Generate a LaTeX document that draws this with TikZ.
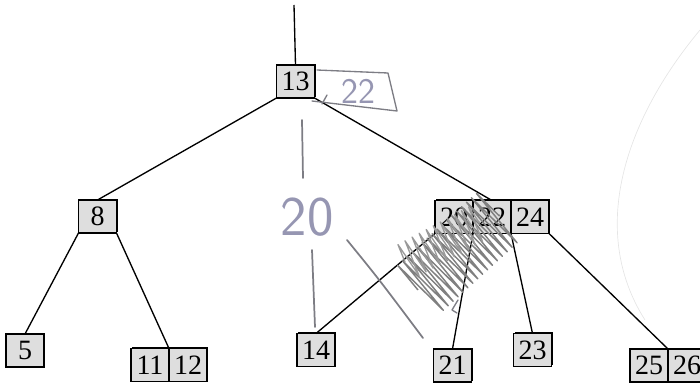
\documentclass[tikz,border=0pt]{standalone}
\usepackage{fontspec}
\setmainfont{Liberation Serif}
\usetikzlibrary{positioning,shadows,decorations.pathmorphing}

\definecolor{keyfill}{RGB}{222,222,222}
\definecolor{pencil}{RGB}{125,125,132}
\definecolor{inkblue}{RGB}{150,150,178}

\tikzset{every picture/.style={line width=0.75pt}}
\tikzset{
  key/.style={draw, fill=keyfill, minimum width=28.5pt, minimum height=24.75pt,
    inner sep=0pt, outer sep=0pt, line width=1.1pt,
    drop shadow={shadow xshift=0.9pt, shadow yshift=0.9pt, opacity=1, fill=black},
    font=\fontsize{21}{22}\selectfont},
  link/.style={draw, line width=1pt},
  pencilline/.style={draw=pencil, line width=1.3pt, line cap=round, line join=round},
  hand/.style={text=inkblue, font=\sffamily}
}

\begin{document}
\begin{tikzpicture}[x=0.75pt,y=0.75pt,yscale=-1,xscale=1]
\useasboundingbox (0,0) rectangle (700,385);

% faint scan mark on the right
\draw [black!10, line width=0.5pt] (700,30) .. controls (625,120) and (588,230) .. (645,320);

% Text Node
\draw (295.5,81.5) node [key] (n13) {13};
% Text Node
\draw (97.5,216.5) node [key] (n8) {8};
% Text Node
\draw (454,217) node [key] (n20) {20};
\node [key, right=0pt of n20] (n22) {22};
\node [key, right=0pt of n22] (n24) {24};
% Text Node
\draw (25,350.5) node [key] (n5) {5};
% Text Node
\draw (150,365) node [key] (n11) {11};
\node [key, right=0pt of n11] (n12) {12};
% Text Node
\draw (316,350) node [key] (n14) {14};
% Text Node
\draw (452.5,365.5) node [key] (n21) {21};
% Text Node
\draw (532.5,350) node [key] (n23) {23};
% Text Node
\draw (649,365.5) node [key] (n25) {25};
\node [key, right=0pt of n25] (n26) {26};

\coordinate (root) at (294,5);

%Straight Lines
\draw [link] (root) -- (n13.north) ;
\draw [link] (n13.south west) -- (n8.north) ;
\draw [link] (n13.south east) -- (n22.north) ;
\draw [link] (n8.south west) -- (n5.north) ;
\draw [link] (n8.south east) -- (n11.north east) ;
\draw [link] (n20.south west) -- (n14.north) ;
\draw [link] (n20.south east) -- (n21.north) ;
\draw [link] (n22.south east) -- (n23.north) ;
\draw [link] (n24.south east) -- (n25.north east) ;

% pencil notes
\draw [pencilline, line width=1pt] (317,70) -- (388,73) -- (397,111) -- (312,101) ;
\draw [pencilline, line width=1pt] (327,95) -- (322,104) ;
\draw (358,91) node [hand, font=\sffamily\fontsize{27}{28}\selectfont] (note22) {22};
\draw [pencilline] (302,120) -- (303,178) ;
\draw (307,217) node [hand, font=\sffamily\fontsize{42}{44}\selectfont] (note20) {20};
\draw [pencilline] (312,250) -- (315,327) ;
\draw [pencilline] (347,240) .. controls (378,278) .. (423,338) ;
\draw [pencilline, line width=1pt] (458,300) -- (452,310) -- (457,313) ;

% scribble over 20 and 22
\draw [draw=black!50, line width=1.1pt, line join=round, decorate,
  decoration={zigzag, segment length=5, amplitude=24}] (418,290) -- (500,215) ;
\draw [draw=black!40, line width=1pt, line join=round, decorate,
  decoration={zigzag, segment length=6, amplitude=14}] (405,262) -- (480,222) ;

\end{tikzpicture}
\end{document}
